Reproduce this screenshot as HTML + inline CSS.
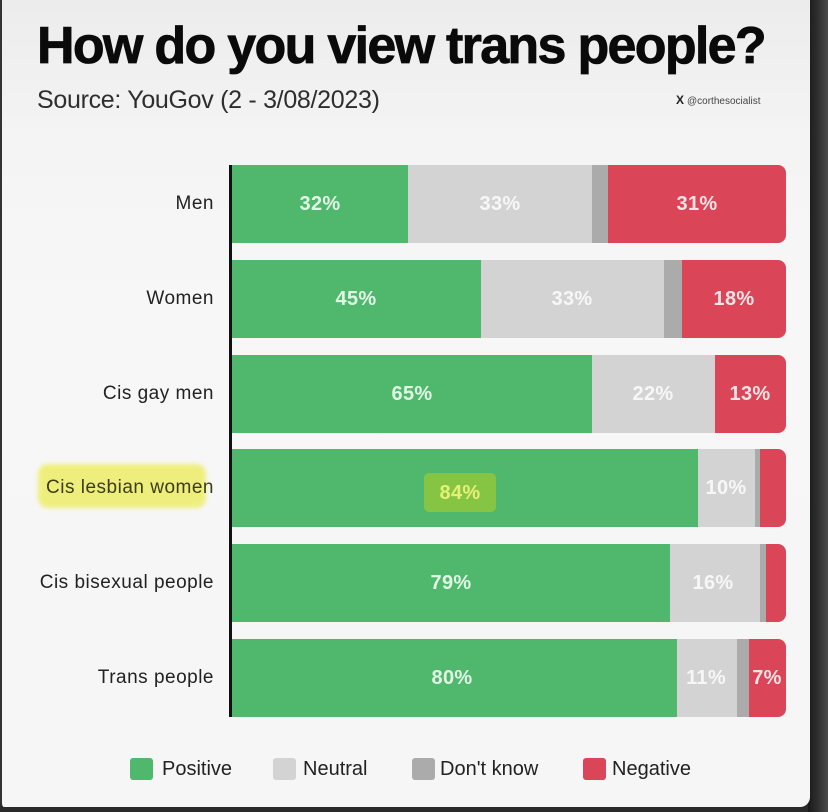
<!DOCTYPE html>
<html>
<head>
<meta charset="utf-8">
<style>
  html,body{margin:0;padding:0;}
  body{width:828px;height:812px;position:relative;overflow:hidden;background:#2a2a2a;font-family:"Liberation Sans",Arial,sans-serif;}
  .bgdark{position:absolute;left:808px;top:0;width:20px;height:812px;background:linear-gradient(90deg,#1a1a1a 0%,#2b2b2b 40%,#4a4a4a 100%);}
  .card{position:absolute;left:0;top:0;width:810px;height:807px;background:linear-gradient(180deg,#ececec 0px,#f4f4f4 140px,#f7f7f7 300px,#f6f6f6 807px);border-bottom-right-radius:10px;border-bottom-left-radius:4px;border-left:2px solid #333;box-sizing:border-box;}
  .title{position:absolute;left:37px;top:20px;font-size:52px;line-height:52px;font-weight:bold;color:#0a0a0a;letter-spacing:-1.7px;white-space:nowrap;-webkit-text-stroke:0.8px #0a0a0a;}
  .sub{position:absolute;left:37px;top:88px;font-size:25px;line-height:25px;color:#2e2e2e;white-space:nowrap;letter-spacing:-0.3px;}
  .handle{position:absolute;left:676px;top:94px;font-size:10px;line-height:12px;color:#444;white-space:nowrap;}
  .handle b{font-size:12px;color:#222;margin-right:3px;}
  .axis{position:absolute;left:229px;top:165px;width:3px;height:552px;background:#111;}
  .lab{position:absolute;left:0;width:214px;height:78px;display:flex;align-items:center;justify-content:flex-end;font-size:19px;letter-spacing:0.5px;color:#222;white-space:nowrap;}
  .seg{position:absolute;height:78px;}
  .g{background:#4fb86c;}
  .n{background:#d3d3d3;}
  .d{background:#ababab;}
  .r{background:#da4557;border-top-right-radius:8px;border-bottom-right-radius:8px;}
  .pct{position:absolute;height:78px;line-height:78px;font-size:20px;font-weight:bold;text-align:center;width:80px;margin-left:-40px;letter-spacing:0.3px;}
  .pg{color:#e2f6e6;}
  .pn{color:#f7f7f7;}
  .pr{color:#f8e4e6;}
  .hl{position:absolute;left:38px;top:464px;width:168px;height:44px;background:#eeee70;border-radius:10px;filter:blur(2px);opacity:0.9;}
  .hl84{position:absolute;left:424px;top:473px;width:72px;height:39px;background:#86c544;border-radius:5px;}
  .sq{position:absolute;top:758px;width:23px;height:22px;border-radius:3px;}
  .lt{position:absolute;top:757px;font-size:20px;line-height:24px;color:#222;white-space:nowrap;}
</style>
</head>
<body>
<div class="bgdark"></div>
<div class="card"></div>

<div class="title">How do you view trans people?</div>
<div class="sub">Source: YouGov (2 - 3/08/2023)</div>
<div class="handle"><b>X</b>@corthesocialist</div>

<div class="hl"></div>

<div class="lab" style="top:165px;">Men</div>
<div class="lab" style="top:260px;">Women</div>
<div class="lab" style="top:355px;">Cis gay men</div>
<div class="lab" style="top:449px;color:#3d3d18;">Cis lesbian women</div>
<div class="lab" style="top:544px;">Cis bisexual people</div>
<div class="lab" style="top:639px;">Trans people</div>

<div class="seg g" style="top:165px;left:232px;width:176px;"></div>
<div class="seg n" style="top:165px;left:408px;width:184px;"></div>
<div class="seg d" style="top:165px;left:592px;width:16px;"></div>
<div class="seg r" style="top:165px;left:608px;width:178px;"></div>
<div class="pct pg" style="top:165px;left:320px;">32%</div>
<div class="pct pn" style="top:165px;left:500px;">33%</div>
<div class="pct pr" style="top:165px;left:697px;">31%</div>

<div class="seg g" style="top:260px;left:232px;width:249px;"></div>
<div class="seg n" style="top:260px;left:481px;width:183px;"></div>
<div class="seg d" style="top:260px;left:664px;width:18px;"></div>
<div class="seg r" style="top:260px;left:682px;width:104px;"></div>
<div class="pct pg" style="top:260px;left:356px;">45%</div>
<div class="pct pn" style="top:260px;left:572px;">33%</div>
<div class="pct pr" style="top:260px;left:734px;">18%</div>

<div class="seg g" style="top:355px;left:232px;width:360px;"></div>
<div class="seg n" style="top:355px;left:592px;width:123px;"></div>
<div class="seg r" style="top:355px;left:715px;width:71px;"></div>
<div class="pct pg" style="top:355px;left:412px;">65%</div>
<div class="pct pn" style="top:355px;left:653px;">22%</div>
<div class="pct pr" style="top:355px;left:750px;">13%</div>

<div class="seg g" style="top:449px;left:232px;width:466px;"></div>
<div class="seg n" style="top:449px;left:698px;width:57px;"></div>
<div class="seg d" style="top:449px;left:755px;width:5px;"></div>
<div class="seg r" style="top:449px;left:760px;width:26px;"></div>
<div class="hl84"></div>
<div class="pct" style="top:454px;left:460px;color:#e6ef76;">84%</div>
<div class="pct pn" style="top:449px;left:726px;">10%</div>

<div class="seg g" style="top:544px;left:232px;width:438px;"></div>
<div class="seg n" style="top:544px;left:670px;width:90px;"></div>
<div class="seg d" style="top:544px;left:760px;width:6px;"></div>
<div class="seg r" style="top:544px;left:766px;width:20px;"></div>
<div class="pct pg" style="top:544px;left:451px;">79%</div>
<div class="pct pn" style="top:544px;left:713px;">16%</div>

<div class="seg g" style="top:639px;left:232px;width:445px;"></div>
<div class="seg n" style="top:639px;left:677px;width:60px;"></div>
<div class="seg d" style="top:639px;left:737px;width:12px;"></div>
<div class="seg r" style="top:639px;left:749px;width:37px;"></div>
<div class="pct pg" style="top:639px;left:452px;">80%</div>
<div class="pct pn" style="top:639px;left:706px;">11%</div>
<div class="pct pr" style="top:639px;left:767px;">7%</div>

<div class="axis"></div>

<div class="sq" style="left:130px;background:#4fb86c;"></div>
<div class="lt" style="left:162px;">Positive</div>
<div class="sq" style="left:273px;background:#d3d3d3;"></div>
<div class="lt" style="left:303px;">Neutral</div>
<div class="sq" style="left:412px;background:#ababab;"></div>
<div class="lt" style="left:440px;">Don't know</div>
<div class="sq" style="left:583px;background:#da4557;"></div>
<div class="lt" style="left:612px;">Negative</div>
</body>
</html>
